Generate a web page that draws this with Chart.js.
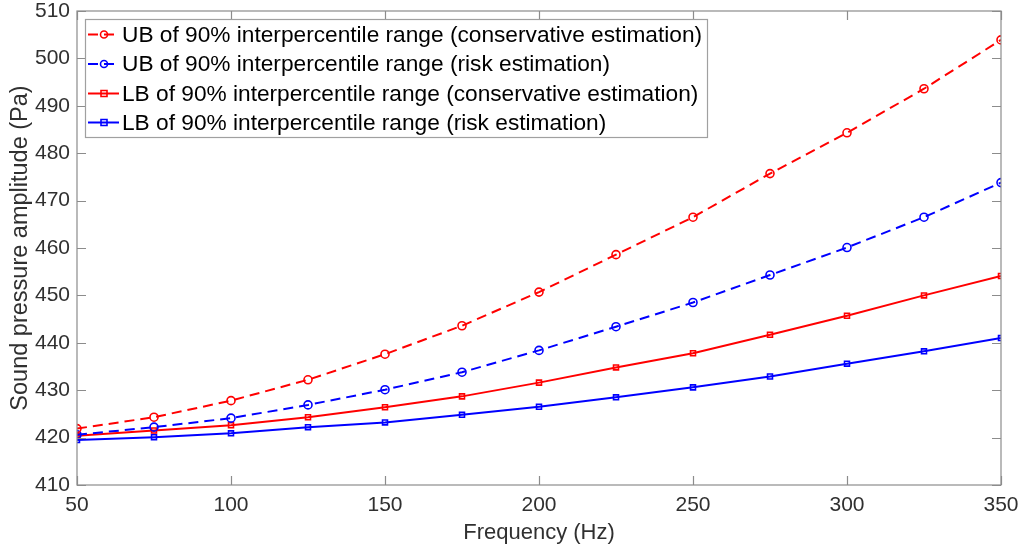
<!DOCTYPE html>
<html>
<head>
<meta charset="utf-8">
<script src="https://cdn.jsdelivr.net/npm/chart.js@4/dist/chart.umd.min.js"></script>
<style>
html,body{margin:0;padding:0;background:#fff;}
#wrap{width:1020px;height:554px;}
</style>
</head>
<body>
<div id="wrap"><canvas id="c" width="1020" height="554"></canvas></div>
<script>
const frequencies = [50, 75, 100, 125, 150, 175, 200, 225, 250, 275, 300, 325, 350];
const ubConservative = [421.9, 424.3, 427.8, 432.2, 437.6, 443.6, 450.7, 458.6, 466.5, 475.7, 484.3, 493.6, 503.9];
const ubRisk = [420.6, 422.2, 424.1, 426.9, 430.1, 433.8, 438.4, 443.4, 448.5, 454.3, 460.1, 466.5, 473.8];
const lbConservative = [420.4, 421.5, 422.6, 424.3, 426.4, 428.7, 431.6, 434.8, 437.8, 441.7, 445.7, 450.0, 454.1];
const lbRisk = [419.5, 420.1, 420.9, 422.2, 423.2, 424.8, 426.5, 428.5, 430.6, 432.9, 435.6, 438.2, 441.0];
const seriesLabels = [
  'UB of 90% interpercentile range (conservative estimation)',
  'UB of 90% interpercentile range (risk estimation)',
  'LB of 90% interpercentile range (conservative estimation)',
  'LB of 90% interpercentile range (risk estimation)'
];
const xTicks = [50, 100, 150, 200, 250, 300, 350];
const yTicks = [410, 420, 430, 440, 450, 460, 470, 480, 490, 500, 510];

const RED = '#ff0000', BLUE = '#0000ff';
const AXIS = '#8c8c8c', TXT = '#303030';
const FONT = "'Liberation Sans', Arial, sans-serif";

function pts(vals){ return frequencies.map((f,i)=>({x:f, y:vals[i]})); }

function ds(label, vals, color, dashed, style){
  return {
    label, data: pts(vals), borderColor: color, backgroundColor: 'rgba(255,255,255,0)',
    borderWidth: 2, borderDash: dashed ? [10,6] : [], tension: 0,
    pointStyle: style, pointRadius: style === 'circle' ? 4 : 3.5,
    pointBorderWidth: 1.6, pointBorderColor: color, pointBackgroundColor: 'rgba(255,255,255,0)',
    fill: false
  };
}

const frame = {
  id: 'frame',
  afterDatasetsDraw(chart){
    const {ctx, chartArea:a, scales} = chart;
    ctx.save();
    ctx.strokeStyle = AXIS; ctx.lineWidth = 1.2; ctx.setLineDash([]);
    ctx.strokeRect(a.left, a.top, a.right - a.left, a.bottom - a.top);
    const tl = 9;
    ctx.beginPath();
    xTicks.forEach(v=>{
      const x = Math.round(scales.x.getPixelForValue(v)) + 0.5;
      ctx.moveTo(x, a.bottom); ctx.lineTo(x, a.bottom - tl);
      ctx.moveTo(x, a.top); ctx.lineTo(x, a.top + tl);
    });
    yTicks.forEach(v=>{
      const y = Math.round(scales.y.getPixelForValue(v)) + 0.5;
      ctx.moveTo(a.left, y); ctx.lineTo(a.left + tl, y);
      ctx.moveTo(a.right, y); ctx.lineTo(a.right - tl, y);
    });
    ctx.stroke();

    // legend box
    const bx = 85, by = 19, bw = 622, bh = 118;
    ctx.fillStyle = '#fff';
    ctx.fillRect(bx, by, bw, bh);
    ctx.strokeStyle = '#a0a0a0'; ctx.lineWidth = 1.2;
    ctx.strokeRect(bx + 0.5, by + 0.5, bw, bh);
    const rows = [34.5, 64, 93.5, 122.5];
    chart.data.datasets.forEach((d, i)=>{
      const y = rows[i];
      ctx.strokeStyle = d.borderColor; ctx.lineWidth = 2;
      ctx.setLineDash(d.borderDash);
      ctx.beginPath(); ctx.moveTo(88, y); ctx.lineTo(119, y); ctx.stroke();
      ctx.setLineDash([]);
      ctx.lineWidth = 1.6;
      ctx.beginPath();
      if (d.pointStyle === 'circle') { ctx.arc(104, y, 3.5, 0, Math.PI*2); }
      else { ctx.rect(101, y - 3, 6, 6); }
      ctx.stroke();
      ctx.fillStyle = '#000';
      ctx.font = '22.7px ' + FONT;
      ctx.textBaseline = 'middle'; ctx.textAlign = 'left';
      ctx.fillText(d.label, 122, y + 1);
    });
    ctx.restore();
  }
};

new Chart(document.getElementById('c'), {
  type: 'line',
  data: {
    datasets: [
      ds(seriesLabels[0], ubConservative, RED, true, 'circle'),
      ds(seriesLabels[1], ubRisk, BLUE, true, 'circle'),
      ds(seriesLabels[2], lbConservative, RED, false, 'rect'),
      ds(seriesLabels[3], lbRisk, BLUE, false, 'rect')
    ]
  },
  options: {
    responsive: false, animation: false, devicePixelRatio: 1,
    layout: { padding: { top: 11, right: 19, left: 0, bottom: 0 } },
    plugins: { legend: { display: false }, tooltip: { enabled: false } },
    scales: {
      x: {
        type: 'linear', min: 50, max: 350,
        afterBuildTicks(s){ s.ticks = xTicks.map(v=>({value:v})); },
        afterFit(s){ s.height = 69; s.paddingLeft = 0; s.paddingRight = 0; },
        grid: { display: false, tickLength: 0 }, border: { display: false },
        ticks: { color: TXT, font: { family: FONT, size: 21 }, padding: 8, maxRotation: 0 },
        title: { display: true, text: 'Frequency (Hz)', color: TXT, font: { family: FONT, size: 22 }, padding: { top: 0, bottom: 8 } }
      },
      y: {
        type: 'linear', min: 410, max: 510,
        afterBuildTicks(s){ s.ticks = yTicks.map(v=>({value:v})); },
        afterFit(s){ s.width = 77; s.paddingTop = 0; s.paddingBottom = 0; },
        grid: { display: false, tickLength: 0 }, border: { display: false },
        ticks: { color: TXT, font: { family: FONT, size: 21 }, padding: 7 },
        title: { display: true, text: 'Sound pressure amplitude (Pa)', color: TXT, font: { family: FONT, size: 23.5 }, padding: { top: 6, bottom: 0 } }
      }
    }
  },
  plugins: [frame]
});
</script>
</body>
</html>
